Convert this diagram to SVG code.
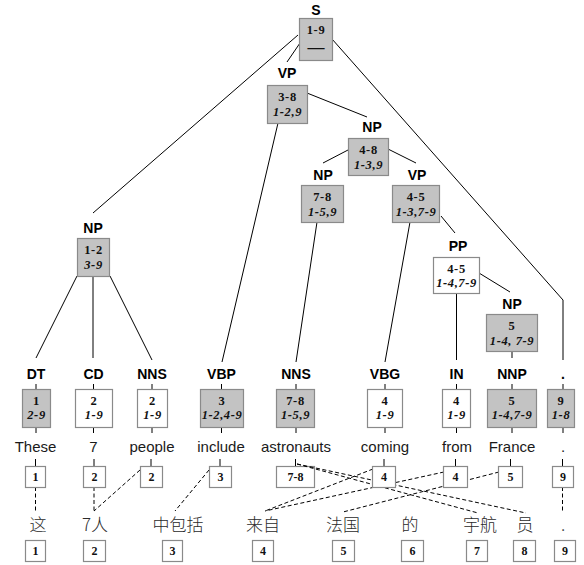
<svg xmlns="http://www.w3.org/2000/svg" width="584" height="565" viewBox="0 0 584 565">
<style>
.lab{font-family:"Liberation Sans",Arial,sans-serif;font-weight:bold;font-size:14px;text-anchor:middle;fill:#000}
.word{font-family:"Liberation Sans",Arial,sans-serif;font-size:15px;text-anchor:middle;fill:#1a1a1a}
.zh{font-family:"Noto Sans CJK SC",sans-serif;font-size:17px;text-anchor:middle;fill:#2a2a2a;font-weight:300}
.bt{font-family:"Liberation Serif","Times New Roman",serif;font-weight:bold;font-size:12.5px;text-anchor:middle;fill:#111;letter-spacing:0.6px}
.bi{font-family:"Liberation Serif","Times New Roman",serif;font-weight:bold;font-style:italic;font-size:12.5px;text-anchor:middle;fill:#111;letter-spacing:0.6px}
.nt{font-family:"Liberation Serif","Times New Roman",serif;font-weight:bold;font-size:12px;text-anchor:middle;fill:#111}
.g{fill:#c3c3c3;stroke:#8a8a8a;stroke-width:1.2}
.w{fill:#fff;stroke:#8a8a8a;stroke-width:1.2}
.e{stroke:#000;stroke-width:1;fill:none}
.d{stroke:#000;stroke-width:1;fill:none;stroke-dasharray:4,2.5}
</style>

<g id="w-astronauts-box"><rect class="w" x="276.5" y="466.5" width="38" height="21"/><text class="nt" x="295.5" y="481">7-8</text></g>

<g id="connectors">
<line class="e" x1="298" y1="35" x2="93" y2="213"/>
<line class="e" x1="300" y1="43" x2="287" y2="62"/>
<polyline class="e" points="332,39 563,300 563,360"/>
<line class="e" x1="278" y1="123" x2="222" y2="362"/>
<line class="e" x1="307" y1="93" x2="367" y2="117"/>
<line class="e" x1="348" y1="150" x2="323" y2="163"/>
<line class="e" x1="388" y1="149" x2="416" y2="163"/>
<line class="e" x1="317" y1="222" x2="296" y2="362"/>
<line class="e" x1="410" y1="222" x2="385" y2="362"/>
<line class="e" x1="441" y1="216" x2="455" y2="233"/>
<line class="e" x1="456.5" y1="293" x2="456.5" y2="360"/>
<line class="e" x1="479" y1="273" x2="510" y2="292"/>
<line class="e" x1="512" y1="351" x2="512" y2="358"/>
<line class="e" x1="77" y1="276" x2="36" y2="358"/>
<line class="e" x1="93" y1="276" x2="93" y2="358"/>
<line class="e" x1="110" y1="276" x2="152" y2="360"/>
<g class="e">
<path d="M36 384V389M36 427V433M35.5 459V466"/>
<path d="M93.5 384V389M93.5 427V433M94 459V466"/>
<path d="M152 384V389M152 427V433M151 459V466"/>
<path d="M221.5 384V389M221.5 427V433M220 459V466"/>
<path d="M296 384V389M296 427V433M295.5 459V466"/>
<path d="M385 384V389M385 427V433M384 459V466"/>
<path d="M456.5 384V389M456.5 427V433M455.5 459V466"/>
<path d="M512 384V389M512 427V433M510.5 459V466"/>
<path d="M563 384V389M563 427V433M562.5 459V466"/>
</g>
<line class="d" x1="35.5" y1="487" x2="35.5" y2="511"/>
<line class="d" x1="94" y1="487" x2="94" y2="511"/>
<line class="d" x1="140" y1="470" x2="94" y2="511"/>
<line class="d" x1="209" y1="470" x2="175" y2="511"/>
<line class="d" x1="297" y1="464" x2="478" y2="513"/>
<line class="d" x1="297" y1="464" x2="526" y2="513"/>
<line class="d" x1="373" y1="469" x2="265" y2="511"/>
<line class="d" x1="444" y1="472" x2="265" y2="511"/>
<line class="d" x1="499" y1="472" x2="343" y2="512"/>
<line class="d" x1="562.5" y1="487" x2="562.5" y2="512"/>
</g>

<g id="S"><text class="lab" x="316" y="15">S</text><rect class="g" x="299.5" y="18.5" width="33" height="42"/><text class="bt" x="316" y="34">1-9</text><text class="bt" x="316" y="53" style="font-size:17px;letter-spacing:0">—</text></g>
<g id="VP1"><text class="lab" x="287" y="78">VP</text><rect class="g" x="267.5" y="85.5" width="40" height="38"/><text class="bt" x="287.5" y="101">3-8</text><text class="bi" x="287.5" y="116">1-2,9</text></g>
<g id="NP48"><text class="lab" x="372" y="132">NP</text><rect class="g" x="348.5" y="138.5" width="40" height="37"/><text class="bt" x="368.5" y="154">4-8</text><text class="bi" x="368.5" y="169">1-3,9</text></g>
<g id="NP78"><text class="lab" x="323" y="180">NP</text><rect class="g" x="301.5" y="185.5" width="42" height="37"/><text class="bt" x="322.5" y="201">7-8</text><text class="bi" x="322.5" y="216">1-5,9</text></g>
<g id="VP45"><text class="lab" x="417" y="180">VP</text><rect class="g" x="392.5" y="185.5" width="47" height="37"/><text class="bt" x="416" y="201">4-5</text><text class="bi" x="416" y="216">1-3,7-9</text></g>
<g id="PP"><text class="lab" x="458" y="251">PP</text><rect class="w" x="433.5" y="257.5" width="46" height="36"/><text class="bt" x="456.5" y="273">4-5</text><text class="bi" x="456.5" y="287">1-4,7-9</text></g>
<g id="NP5"><text class="lab" x="512" y="309">NP</text><rect class="g" x="486.5" y="314.5" width="51" height="37"/><text class="bt" x="512" y="330">5</text><text class="bi" x="512" y="345">1-4, 7-9</text></g>
<g id="NP12"><text class="lab" x="93" y="233">NP</text><rect class="g" x="77.5" y="238.5" width="32" height="38"/><text class="bt" x="93.5" y="254">1-2</text><text class="bi" x="93.5" y="269">3-9</text></g>

<g id="DT"><text class="lab" x="36" y="379">DT</text><rect class="g" x="22.5" y="389.5" width="28" height="38"/><text class="bt" x="36.5" y="405">1</text><text class="bi" x="36.5" y="419">2-9</text></g>
<g id="CD"><text class="lab" x="93.5" y="379">CD</text><rect class="w" x="75.5" y="389.5" width="37" height="38"/><text class="bt" x="94" y="405">2</text><text class="bi" x="94" y="419">1-9</text></g>
<g id="NNS1"><text class="lab" x="152" y="379">NNS</text><rect class="w" x="137.5" y="389.5" width="30" height="38"/><text class="bt" x="152.5" y="405">2</text><text class="bi" x="152.5" y="419">1-9</text></g>
<g id="VBP"><text class="lab" x="221.5" y="379">VBP</text><rect class="g" x="200.5" y="389.5" width="43" height="38"/><text class="bt" x="222" y="405">3</text><text class="bi" x="222" y="419">1-2,4-9</text></g>
<g id="NNS2"><text class="lab" x="296" y="379">NNS</text><rect class="g" x="276.5" y="389.5" width="38" height="38"/><text class="bt" x="295.5" y="405">7-8</text><text class="bi" x="295.5" y="419">1-5,9</text></g>
<g id="VBG"><text class="lab" x="385" y="379">VBG</text><rect class="w" x="367.5" y="389.5" width="35" height="38"/><text class="bt" x="385" y="405">4</text><text class="bi" x="385" y="419">1-9</text></g>
<g id="IN"><text class="lab" x="456.5" y="379">IN</text><rect class="w" x="442.5" y="389.5" width="28" height="38"/><text class="bt" x="456.5" y="405">4</text><text class="bi" x="456.5" y="419">1-9</text></g>
<g id="NNP"><text class="lab" x="512" y="379">NNP</text><rect class="g" x="487.5" y="389.5" width="49" height="38"/><text class="bt" x="512" y="405">5</text><text class="bi" x="512" y="419">1-4,7-9</text></g>
<g id="PUNCT"><text class="lab" x="563" y="379">.</text><rect class="g" x="547.5" y="389.5" width="27" height="38"/><text class="bt" x="561" y="405">9</text><text class="bi" x="561" y="419">1-8</text></g>

<g id="words">
<text class="word" x="35.5" y="452">These</text>
<text class="word" x="93.5" y="452">7</text>
<text class="word" x="152" y="452">people</text>
<text class="word" x="221" y="452">include</text>
<text class="word" x="296" y="452">astronauts</text>
<text class="word" x="385" y="452">coming</text>
<text class="word" x="457" y="452">from</text>
<text class="word" x="512" y="452">France</text>
<text class="word" x="563" y="452">.</text>
</g>

<g id="w1-box"><rect class="w" x="25.5" y="466.5" width="20" height="21"/><text class="nt" x="35.5" y="481">1</text></g>
<g id="w2-box"><rect class="w" x="83.5" y="466.5" width="22" height="21"/><text class="nt" x="94.5" y="481">2</text></g>
<g id="w3-box"><rect class="w" x="140.5" y="466.5" width="22" height="21"/><text class="nt" x="151.5" y="481">2</text></g>
<g id="w4-box"><rect class="w" x="209.5" y="466.5" width="22" height="21"/><text class="nt" x="220.5" y="481">3</text></g>
<g id="w6-box"><rect class="w" x="372.5" y="466.5" width="23" height="21"/><text class="nt" x="384" y="481">4</text></g>
<g id="w7-box"><rect class="w" x="443.5" y="466.5" width="24" height="21"/><text class="nt" x="455.5" y="481">4</text></g>
<g id="w8-box"><rect class="w" x="498.5" y="466.5" width="24" height="21"/><text class="nt" x="510.5" y="481">5</text></g>
<g id="w9-box"><rect class="w" x="552.5" y="466.5" width="21" height="21"/><text class="nt" x="563" y="481">9</text></g>

<g id="zh-words">
<text class="zh" x="38" y="531">这</text>
<text class="zh" x="95" y="531">7人</text>
<text class="zh" x="178" y="531">中包括</text>
<text class="zh" x="263" y="531">来自</text>
<text class="zh" x="343" y="531">法国</text>
<text class="zh" x="410" y="531">的</text>
<text class="zh" x="480" y="531">宇航</text>
<text class="zh" x="525" y="531">员</text>
<text class="zh" x="563" y="531">.</text>
</g>

<g id="c1-box"><rect class="w" x="25.5" y="540.5" width="20" height="21"/><text class="nt" x="35.5" y="555">1</text></g>
<g id="c2-box"><rect class="w" x="83.5" y="540.5" width="22" height="21"/><text class="nt" x="94.5" y="555">2</text></g>
<g id="c3-box"><rect class="w" x="162.5" y="540.5" width="20" height="21"/><text class="nt" x="172.5" y="555">3</text></g>
<g id="c4-box"><rect class="w" x="252.5" y="540.5" width="21" height="21"/><text class="nt" x="263" y="555">4</text></g>
<g id="c5-box"><rect class="w" x="332.5" y="540.5" width="22" height="21"/><text class="nt" x="343.5" y="555">5</text></g>
<g id="c6-box"><rect class="w" x="401.5" y="540.5" width="22" height="21"/><text class="nt" x="412.5" y="555">6</text></g>
<g id="c7-box"><rect class="w" x="466.5" y="540.5" width="21" height="21"/><text class="nt" x="477" y="555">7</text></g>
<g id="c8-box"><rect class="w" x="513.5" y="540.5" width="22" height="21"/><text class="nt" x="524.5" y="555">8</text></g>
<g id="c9-box"><rect class="w" x="554.5" y="540.5" width="21" height="21"/><text class="nt" x="565" y="555">9</text></g>
</svg>
